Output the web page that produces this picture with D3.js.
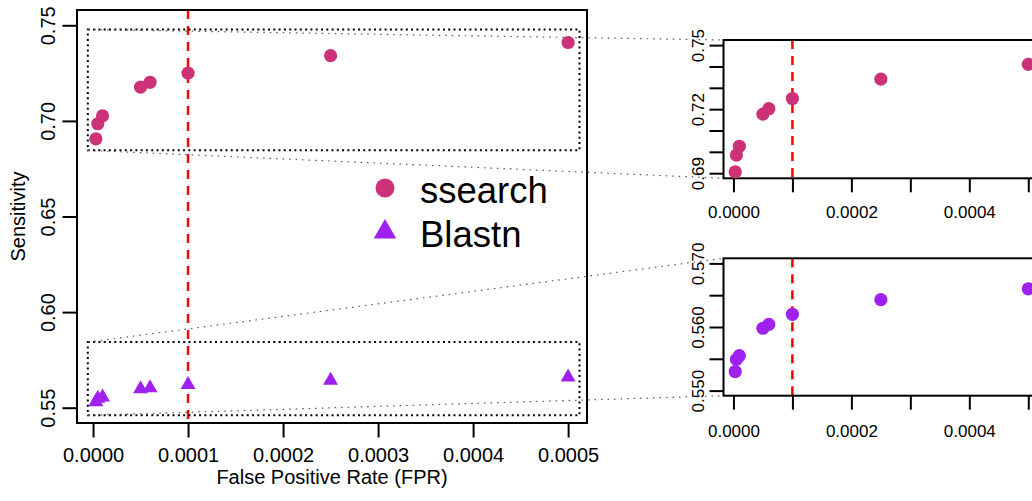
<!DOCTYPE html>
<html>
<head>
<meta charset="utf-8">
<script src="https://cdn.jsdelivr.net/npm/d3@7"></script>
<style>
    body { margin: 0; background: #fff; overflow: hidden; }
    svg { font-family: "Liberation Sans", Arial, sans-serif; }
</style>
</head>
<body>
<div id="chart"></div>
<script>

// values
const fpr = [0.000003, 0.000005, 0.00001, 0.00005, 0.00006, 0.0001, 0.00025, 0.0005];
const ssearchSens = [0.6906, 0.6985, 0.7026, 0.7177, 0.7202, 0.7250, 0.7341, 0.7410];
const blastnSens = [0.5530, 0.5549, 0.5555, 0.5598, 0.5604, 0.5620, 0.5643, 0.5660];
const fprCutoff = 0.0001;

const seriesNames = ["ssearch", "Blastn"];

const fprTicks = [0, 0.0001, 0.0002, 0.0003, 0.0004, 0.0005];
const insetFprLabels = [0, 0.0002, 0.0004];

const mainLimits = [0.55, 0.75];
const mainTicks = [0.55, 0.60, 0.65, 0.70, 0.75];

const topLimits = [0.69, 0.75];
const topTicks = [0.69, 0.70, 0.71, 0.72, 0.73, 0.74, 0.75];
const topLabels = [0.69, 0.72, 0.75];

const bottomLimits = [0.55, 0.57];
const bottomTicks = [0.550, 0.555, 0.560, 0.565, 0.570];
const bottomLabels = [0.550, 0.560, 0.570];

// dotted zoom rectangles on the main panel (data units)
const zoomBoxFpr = [-0.0000055, 0.000512];
const topZoomBoxSens = [0.6846, 0.7478];
const bottomZoomBoxSens = [0.5460, 0.5843];


const colSsearch = "#CD3278";
const colBlastn = "#A020F0";

let svg = d3.select("#chart").append("svg")
    .attr("width", 1032)
    .attr("height", 501);

// R style axis padding (4% each side)
function pad(lims) {
    let d = (lims[1] - lims[0]) * 0.04;
    return [lims[0] - d, lims[1] + d];
}

// draw one panel: box, ticks, labels, cutoff line
function drawPanel(box, x, y, opt) {
    let g = svg.append("g");

    // x axis
    let xAxis = d3.axisBottom(x)
        .tickValues(fprTicks)
        .tickSize(opt.tick)
        .tickPadding(opt.xPad)
        .tickFormat(d => opt.xLabels.some(v => Math.abs(v - d) < 1e-12) ? d3.format(".4f")(d) : "");
    g.append("g")
        .attr("transform", "translate(0," + box.bottom + ")")
        .call(xAxis)
        .call(a => a.select(".domain").remove())
        .call(a => a.selectAll("line").attr("stroke", "#000").attr("stroke-width", 2))
        .call(a => a.selectAll("text").attr("fill", "#000").attr("font-size", opt.font).attr("dy", 0)
            .attr("y", opt.xPad));

    // y axis, labels rotated like R
    let yAxis = d3.axisLeft(y)
        .tickValues(opt.yTicks)
        .tickSize(opt.tick)
        .tickFormat(d => opt.yLabels.some(v => Math.abs(v - d) < 1e-9) ? d3.format(opt.yFmt)(d) : "");
    g.append("g")
        .attr("transform", "translate(" + box.left + ",0)")
        .call(yAxis)
        .call(a => a.select(".domain").remove())
        .call(a => a.selectAll("line").attr("stroke", "#000").attr("stroke-width", 2))
        .call(a => a.selectAll("text")
            .attr("fill", "#000")
            .attr("font-size", opt.font)
            .attr("text-anchor", "middle")
            .attr("dy", 0)
            .attr("x", 0)
            .attr("y", -opt.yPad)
            .attr("transform", "rotate(-90)"));

    // cutoff line
    g.append("line")
        .attr("x1", x(fprCutoff)).attr("x2", x(fprCutoff))
        .attr("y1", box.top).attr("y2", box.bottom)
        .attr("stroke", "#FF0000")
        .attr("stroke-width", 2.5)
        .attr("stroke-dasharray", "9,7");

    // frame
    g.append("rect")
        .attr("x", box.left).attr("y", box.top)
        .attr("width", box.right - box.left)
        .attr("height", box.bottom - box.top)
        .attr("fill", "none")
        .attr("stroke", "#000")
        .attr("stroke-width", 2);

    return g;
}

function drawCircles(g, x, y, vals, col, r) {
    g.selectAll(null)
        .data(vals)
        .enter()
        .append("circle")
        .attr("cx", (d, i) => x(fpr[i]))
        .attr("cy", d => y(d))
        .attr("r", r)
        .attr("fill", col);
}

let triangle = d3.symbol().type(d3.symbolTriangle);


/*
 * Main panel
 */
let mainBox = { left: 77, right: 587, top: 10, bottom: 423 };
let xMain = d3.scaleLinear().domain(pad(d3.extent(fpr))).range([mainBox.left, mainBox.right]);
let yMain = d3.scaleLinear().domain(pad(mainLimits)).range([mainBox.bottom, mainBox.top]);

let mainG = drawPanel(mainBox, xMain, yMain, {
    tick: 14.5, xPad: 39, yPad: 22, font: 20,
    xLabels: fprTicks, yTicks: mainTicks, yLabels: mainTicks, yFmt: ".2f"
});

// dotted zoom rectangles
[topZoomBoxSens, bottomZoomBoxSens].forEach(s => {
    mainG.append("rect")
        .attr("x", xMain(zoomBoxFpr[0]))
        .attr("y", yMain(s[1]))
        .attr("width", xMain(zoomBoxFpr[1]) - xMain(zoomBoxFpr[0]))
        .attr("height", yMain(s[0]) - yMain(s[1]))
        .attr("fill", "none")
        .attr("stroke", "#000")
        .attr("stroke-width", 2)
        .attr("stroke-dasharray", "2,3.3");
});

drawCircles(mainG, xMain, yMain, ssearchSens, colSsearch, 6.6);

mainG.selectAll(null)
    .data(blastnSens)
    .enter()
    .append("path")
    .attr("d", triangle.size(97))
    .attr("transform", (d, i) => "translate(" + xMain(fpr[i]) + "," + yMain(d) + ")")
    .attr("fill", colBlastn);

// axis titles
svg.append("text")
    .attr("x", (mainBox.left + mainBox.right) / 2)
    .attr("y", 483.5)
    .attr("text-anchor", "middle")
    .attr("font-size", 20)
    .text("False Positive Rate (FPR)");

svg.append("text")
    .attr("transform", "translate(24.5," + (mainBox.top + mainBox.bottom) / 2 + ") rotate(-90)")
    .attr("text-anchor", "middle")
    .attr("font-size", 20)
    .text("Sensitivity");

// legend
let legend = mainG.append("g").attr("transform", "translate(385,188)");
legend.append("circle").attr("r", 9.5).attr("fill", colSsearch);
legend.append("path")
    .attr("d", d3.symbol().type(d3.symbolTriangle).size(222)())
    .attr("transform", "translate(0,44)")
    .attr("fill", colBlastn);
legend.selectAll("text")
    .data(seriesNames)
    .enter()
    .append("text")
    .attr("x", 35)
    .attr("y", (d, i) => 15 + i * 43.5)
    .attr("font-size", 36.5)
    .text(d => d);


/*
 * Zoomed insets
 */
let topBox = { left: 723.5, right: 1040, top: 40, bottom: 178.3 };
let bottomBox = { left: 723.5, right: 1040, top: 258.3, bottom: 395.7 };

let xInsetTop = d3.scaleLinear().domain(pad(d3.extent(fpr))).range([topBox.left, topBox.right]);
let yInsetTop = d3.scaleLinear().domain(pad(topLimits)).range([topBox.bottom, topBox.top]);
let topG = drawPanel(topBox, xInsetTop, yInsetTop, {
    tick: 14, xPad: 40, yPad: 20, font: 17,
    xLabels: insetFprLabels, yTicks: topTicks, yLabels: topLabels, yFmt: ".2f"
});
drawCircles(topG, xInsetTop, yInsetTop, ssearchSens, colSsearch, 6.6);

let xInsetBottom = d3.scaleLinear().domain(pad(d3.extent(fpr))).range([bottomBox.left, bottomBox.right]);
let yInsetBottom = d3.scaleLinear().domain(pad(bottomLimits)).range([bottomBox.bottom, bottomBox.top]);
let bottomG = drawPanel(bottomBox, xInsetBottom, yInsetBottom, {
    tick: 14, xPad: 41, yPad: 20, font: 17,
    xLabels: insetFprLabels, yTicks: bottomTicks, yLabels: bottomLabels, yFmt: ".3f"
});
drawCircles(bottomG, xInsetBottom, yInsetBottom, blastnSens, colBlastn, 6.6);


// connector lines from zoom rectangles to insets
let connectors = [
    [xMain(zoomBoxFpr[0]), yMain(topZoomBoxSens[1]), topBox.left, topBox.top],
    [xMain(zoomBoxFpr[0]), yMain(topZoomBoxSens[0]), topBox.left, topBox.bottom],
    [xMain(zoomBoxFpr[0]), yMain(bottomZoomBoxSens[1]), bottomBox.left, bottomBox.top],
    [xMain(zoomBoxFpr[0]), yMain(bottomZoomBoxSens[0]), bottomBox.left, bottomBox.bottom]
];
svg.selectAll(".connector")
    .data(connectors)
    .enter()
    .append("line")
    .attr("class", "connector")
    .attr("x1", d => d[0]).attr("y1", d => d[1])
    .attr("x2", d => d[2]).attr("y2", d => d[3])
    .attr("stroke", "#555")
    .attr("stroke-width", 1.2)
    .attr("stroke-dasharray", "1.5,5");

</script>
</body>
</html>
